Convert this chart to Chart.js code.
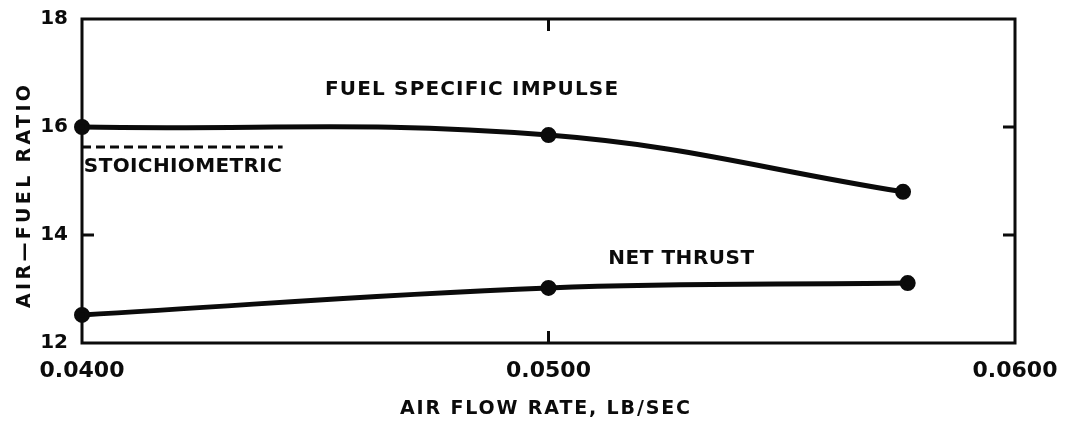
<!DOCTYPE html>
<html>
<head>
<meta charset="utf-8">
<script src="https://cdn.jsdelivr.net/npm/chart.js@4.4.1/dist/chart.umd.min.js"></script>
<style>
  html, body { margin: 0; background: #fff; }
  #wrap { width: 1079px; height: 428px; }
</style>
</head>
<body>
<div id="wrap"><canvas id="c"></canvas></div>
<script>
// Air-fuel ratio vs air flow rate.
const airFlow = [0.0400, 0.0500, 0.0576];
const fuelSpecificImpulse = [16.0, 15.85, 14.8];
const netThrustFlow = [0.0400, 0.0500, 0.0577];
const netThrust = [12.52, 13.02, 13.11];
const stoichFlow = [0.0400, 0.0443];
const stoichRatio = [15.63, 15.63];
const xTicks = [0.04, 0.05, 0.06];
const yTicks = [12, 14, 16, 18];
const xLabels = ['0.0400', '0.0500', '0.0600'];
const yLabels = ['12', '14', '16', '18'];

const INK = '#0b0b0b';
const FONT = '"DejaVu Sans", sans-serif';
const pts = (xs, ys) => xs.map((x, i) => ({ x, y: ys[i] }));

// text with letter spacing stretched to a target width
function spaced(ctx, text, x, y, w, size) {
  ctx.font = `bold ${size}px ${FONT}`;
  ctx.letterSpacing = '0px';
  const nat = ctx.measureText(text).width;
  ctx.letterSpacing = ((w - nat) / (text.length - 1)) + 'px';
  ctx.textAlign = 'left'; ctx.textBaseline = 'middle';
  ctx.fillStyle = INK;
  ctx.fillText(text, x, y);
  ctx.letterSpacing = '0px';
}

const notes = [
  { text: 'FUEL SPECIFIC IMPULSE', x: 0.04521, y: 16.685, w: 293, size: 20 },
  { text: 'STOICHIOMETRIC', x: 0.04004, y: 15.26, w: 198, size: 20 },
  { text: 'NET THRUST', x: 0.05128, y: 13.556, w: 146, size: 20 },
];

const frame = {
  id: 'frame',
  beforeDatasetsDraw(chart) {
    const { ctx, chartArea: a, scales: { x, y } } = chart;
    ctx.save();
    ctx.strokeStyle = INK; ctx.lineWidth = 3; ctx.lineCap = 'square';
    ctx.strokeRect(a.left, a.top, a.right - a.left, a.bottom - a.top);
    ctx.lineCap = 'butt';
    ctx.beginPath();
    xTicks.slice(1, -1).forEach((v) => {
      const px = x.getPixelForValue(v);
      ctx.moveTo(px, a.top); ctx.lineTo(px, a.top + 12);
      ctx.moveTo(px, a.bottom); ctx.lineTo(px, a.bottom - 12);
    });
    yTicks.slice(1, -1).forEach((v) => {
      const py = y.getPixelForValue(v);
      ctx.moveTo(a.left, py); ctx.lineTo(a.left + 12, py);
      ctx.moveTo(a.right, py); ctx.lineTo(a.right - 12, py);
    });
    ctx.stroke();
    ctx.restore();
  },
  afterDraw(chart) {
    const { ctx, scales: { x, y } } = chart;
    ctx.save();
    notes.forEach((n) => spaced(ctx, n.text, x.getPixelForValue(n.x), y.getPixelForValue(n.y), n.w, n.size));
    spaced(ctx, 'AIR FLOW RATE, LB/SEC', 400, 409, 290, 19);
    ctx.translate(25, 197); ctx.rotate(-Math.PI / 2);
    spaced(ctx, 'AIR\u2014FUEL RATIO', -111, 0, 223, 19);
    ctx.restore();
  },
};

const line = (data, extra) => Object.assign({
  data, showLine: true, borderColor: INK, backgroundColor: INK, borderWidth: 5,
  pointRadius: 5.5, pointHoverRadius: 5.5, tension: 0.4, clip: false,
}, extra);

new Chart(document.getElementById('c'), {
  type: 'scatter',
  data: {
    datasets: [
      line(pts(airFlow, fuelSpecificImpulse)),
      line(pts(netThrustFlow, netThrust)),
      line(pts(stoichFlow, stoichRatio), { borderWidth: 3, borderDash: [9, 5], pointRadius: 0, tension: 0 }),
    ],
  },
  options: {
    responsive: true, maintainAspectRatio: false, animation: false,
    layout: { padding: { top: 19, right: 64, left: 0, bottom: 0 } },
    plugins: { legend: { display: false }, tooltip: { enabled: false } },
    scales: {
      x: {
        type: 'linear', min: 0.04, max: 0.06,
        afterBuildTicks: (s) => { s.ticks = xTicks.map((v) => ({ value: v })); },
        afterFit: (s) => { s.height = 85; },
        grid: { display: false, drawTicks: false }, border: { display: false },
        ticks: { padding: 15, color: INK, font: { family: FONT, size: 22, weight: 'bold' },
          callback: (v) => xLabels[xTicks.indexOf(v)], maxRotation: 0 },
      },
      y: {
        type: 'linear', min: 12, max: 18,
        afterBuildTicks: (s) => { s.ticks = yTicks.map((v) => ({ value: v })); },
        afterFit: (s) => { s.width = 82; s.paddingTop = 0; s.paddingBottom = 0; },
        grid: { display: false, drawTicks: false }, border: { display: false },
        ticks: { padding: 14, color: INK, font: { family: FONT, size: 20, weight: 'bold' },
          callback: (v) => yLabels[yTicks.indexOf(v)] },
      },
    },
  },
  plugins: [frame],
});
</script>
</body>
</html>
